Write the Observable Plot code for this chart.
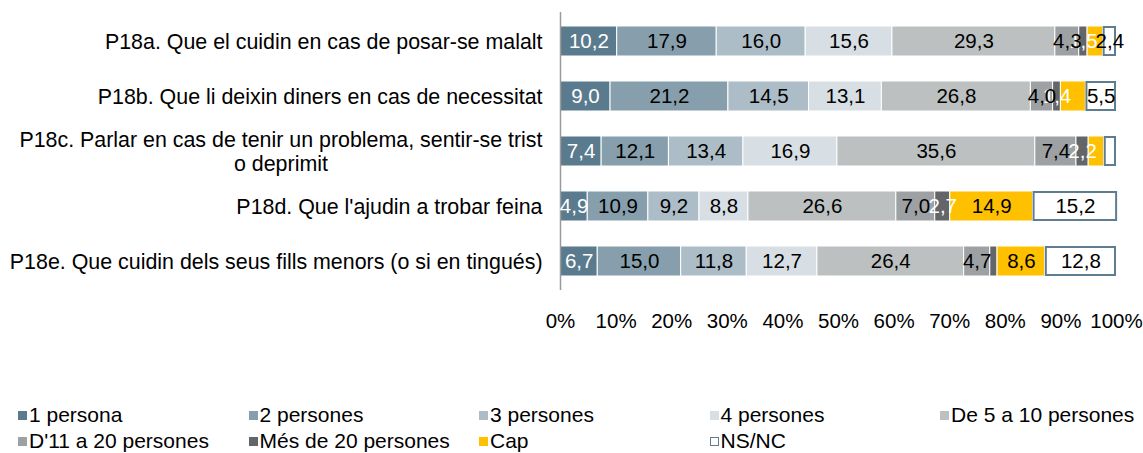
<!DOCTYPE html>
<html><head><meta charset="utf-8">
<script src="https://cdn.jsdelivr.net/npm/d3@7"></script>
<script src="https://cdn.jsdelivr.net/npm/@observablehq/plot@0.6"></script>
<style>
body{margin:0;background:#fff;font-family:"Liberation Sans",Arial,sans-serif;}
#wrap{position:relative;width:1143px;height:453px;overflow:hidden}
#legend{position:absolute;left:18px;top:402px;width:1160px;display:flex;flex-wrap:wrap;font-size:21px;color:#000;}
.item{width:230.5px;height:26px;display:flex;align-items:center;white-space:nowrap}
.sw{width:9px;height:9px;margin-right:2px;box-sizing:border-box;flex:none}
</style></head><body><div id="wrap"><div id="chart"></div><div id="legend"></div></div>
<script>
const categories = [
  "P18a. Que el cuidin en cas de posar-se malalt",
  "P18b. Que li deixin diners en cas de necessitat",
  "P18c. Parlar en cas de tenir un problema, sentir-se trist\no deprimit",
  "P18d. Que l'ajudin a trobar feina",
  "P18e. Que cuidin dels seus fills menors (o si en tingués)"
];
const series = ["1 persona","2 persones","3 persones","4 persones","De 5 a 10 persones","D'11 a 20 persones","Més de 20 persones","Cap","NS/NC"];
const v1persona   = [10.2,  9.0,  7.4,  4.9,  6.7];
const v2persones  = [17.9, 21.2, 12.1, 10.9, 15.0];
const v3persones  = [16.0, 14.5, 13.4,  9.2, 11.8];
const v4persones  = [15.6, 13.1, 16.9,  8.8, 12.7];
const v5a10       = [29.3, 26.8, 35.6, 26.6, 26.4];
const v11a20      = [ 4.3,  4.0,  7.4,  7.0,  4.7];
const vMesDe20    = [ 1.5,  1.4,  2.2,  2.7,  1.3];
const vCap        = [ 2.8,  4.5,  2.8, 14.9,  8.6];
const vNSNC       = [ 2.4,  5.5,  2.2, 15.2, 12.8];
const seriesValues = [v1persona, v2persones, v3persones, v4persones, v5a10, v11a20, vMesDe20, vCap, vNSNC];
const colors = ["#5a7a8e","#879fac","#adbdc7","#d7dfe4","#bcc0c1","#9ea1a3","#636669","#ffc000","#ffffff"];
const tickValues = [0,10,20,30,40,50,60,70,80,90,100];
const whiteLabelSeries = ["1 persona","Més de 20 persones"];
// labels not displayed in the original chart: [category index, series]
const hiddenLabels = [[0,"Cap"],[1,"Cap"],[2,"Cap"],[2,"NS/NC"],[4,"Més de 20 persones"]];

const data = [];
categories.forEach((c, i) => series.forEach((s, j) => data.push({cat: c, ci: i, series: s, value: seriesValues[j][i]})));
const fmt = v => d3.format(".1f")(v).replace(".", ",");
const isHidden = d => hiddenLabels.some(([i, s]) => i === d.ci && s === d.series);

const chart = Plot.plot({
  width: 1143,
  height: 345,
  marginLeft: 560,
  marginRight: 27,
  marginTop: 12,
  marginBottom: 55,
  style: {fontFamily: "'Liberation Sans', Arial, sans-serif", fontSize: "20px", color: "#000", background: "#fff"},
  x: {domain: [0, 100]},
  y: {domain: categories, paddingInner: 0.45, paddingOuter: 0.225},
  color: {domain: series, range: colors},
  marks: [
    Plot.barX(data, {x: "value", y: "cat", fill: "series", stroke: "white", strokeWidth: 1}),
    Plot.barX(data, {x: "value", y: "cat", z: "series", fill: "none", stroke: "#5f7d90", strokeWidth: 2,
      strokeOpacity: d => d.series === "NS/NC" ? 1 : 0, insetLeft: 1, insetRight: 1, insetTop: 1, insetBottom: 1}),
    Plot.ruleX([0], {stroke: "#9a9a9a", strokeWidth: 1.5}),
    Plot.text(data, Plot.stackX({x: "value", y: "cat", z: "series", fill: "white", fontSize: 20.5,
      text: d => (!isHidden(d) && whiteLabelSeries.includes(d.series)) ? fmt(d.value) : ""})),
    Plot.text(data, Plot.stackX({x: "value", y: "cat", z: "series", fill: "black", fontSize: 20.5,
      text: d => (!isHidden(d) && !whiteLabelSeries.includes(d.series)) ? fmt(d.value) : ""})),
    Plot.axisY({tickSize: 0, tickPadding: 18, fontSize: 21.4, lineHeight: 1.12, label: null}),
    Plot.axisX({ticks: tickValues, tickFormat: d => d + "%", tickSize: 0, tickPadding: 23, fontSize: 20.5, label: null})
  ]
});
document.getElementById("chart").appendChild(chart);

// center the wrapped lines of multi-line category labels (as in the original)
chart.querySelectorAll('g[aria-label="y-axis tick label"] text').forEach(t => {
  const spans = t.querySelectorAll("tspan");
  if (spans.length > 1) {
    const w = spans[0].getComputedTextLength();
    t.setAttribute("text-anchor", "middle");
    spans.forEach(s => s.setAttribute("x", -w / 2));
  }
});

const legend = document.getElementById("legend");
series.forEach((s, j) => {
  const it = document.createElement("div"); it.className = "item";
  const sw = document.createElement("span"); sw.className = "sw";
  sw.style.background = colors[j];
  if (s === "NS/NC") sw.style.border = "1.5px solid #5f7d90";
  it.appendChild(sw);
  const tx = document.createElement("span"); tx.textContent = s; it.appendChild(tx);
  legend.appendChild(it);
});
</script></body></html>
